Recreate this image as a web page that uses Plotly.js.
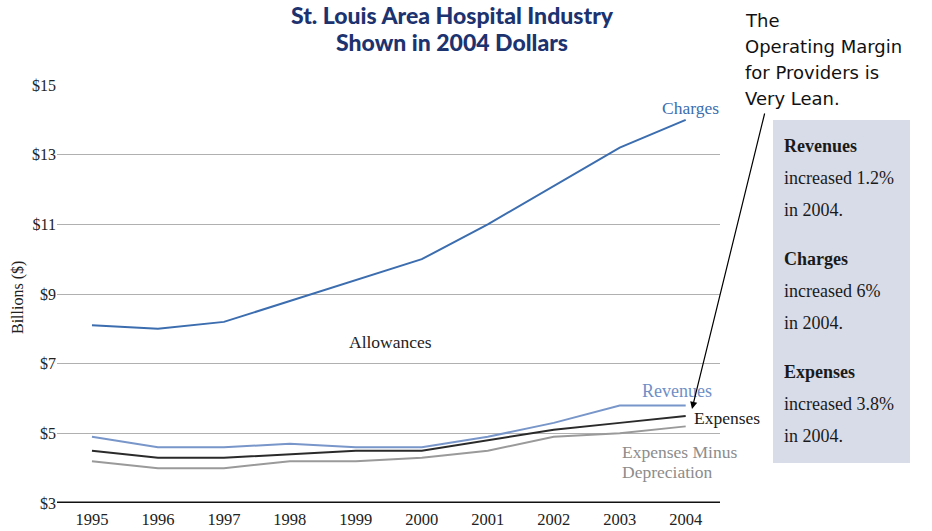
<!DOCTYPE html>
<html>
<head>
<meta charset="utf-8">
<script src="https://cdn.plot.ly/plotly-3.0.1.min.js"></script>
<style>html,body{margin:0;padding:0;background:#fff;}#chart{width:932px;height:531px;}</style>
</head>
<body>
<div id="chart"></div>
<script>
// ---- data ----
const years = [1995, 1996, 1997, 1998, 1999, 2000, 2001, 2002, 2003, 2004];
const charges = [8.1, 8.0, 8.2, 8.8, 9.4, 10.0, 11.0, 12.1, 13.2, 14.0];
const revenues = [4.9, 4.6, 4.6, 4.7, 4.6, 4.6, 4.9, 5.3, 5.8, 5.8];
const expenses = [4.5, 4.3, 4.3, 4.4, 4.5, 4.5, 4.8, 5.1, 5.3, 5.5];
const expensesMinusDep = [4.2, 4.0, 4.0, 4.2, 4.2, 4.3, 4.5, 4.9, 5.0, 5.2];
const yTicks = [3, 5, 7, 9, 11, 13, 15];
const yTickLabels = ['$3', '$5', '$7', '$9', '$11', '$13', '$15'];
const titleLines = ['St. Louis Area Hospital Industry', 'Shown in 2004 Dollars'];
const noteLines = ['The', 'Operating Margin', 'for Providers is', 'Very Lean.'];
const panelLines = [
  ['Revenues', true], ['increased 1.2%', false], ['in 2004.', false],
  ['Charges', true], ['increased 6%', false], ['in 2004.', false],
  ['Expenses', true], ['increased 3.8%', false], ['in 2004.', false]
];

// ---- layout helpers (pixel -> paper) ----
const L = 57, R = 720, T = 85, B = 503;
const px = x => (x - L) / (R - L);
const py = y => (B - y) / (B - T);
const serif = 'Liberation Serif, Times New Roman, serif';
const titleFont = {family: 'Lato, Open Sans, sans-serif', size: 23, color: '#1c3370', weight: 900};

const traces = [
  {x: years, y: charges, mode: 'lines', line: {color: '#3b6daf', width: 2}, name: 'Charges'},
  {x: years, y: revenues, mode: 'lines', line: {color: '#7896c9', width: 2}, name: 'Revenues'},
  {x: years, y: expensesMinusDep, mode: 'lines', line: {color: '#9a9a9a', width: 2}, name: 'Expenses Minus Depreciation'},
  {x: years, y: expenses, mode: 'lines', line: {color: '#2a2a2a', width: 2}, name: 'Expenses'}
];

const ann = [];
function txt(text, x, y, opts) {
  ann.push(Object.assign({
    text: text, xref: 'paper', yref: 'paper', x: px(x), y: py(y),
    showarrow: false, xanchor: 'center', yanchor: 'middle',
    font: {family: serif, size: 17, color: '#222'}
  }, opts || {}));
}
// title
txt(titleLines[0], 452, 15, {font: titleFont});
txt(titleLines[1], 452, 42, {font: titleFont});
// note top right
const noteY = [20, 46, 72, 98];
noteLines.forEach((t, i) => txt(t, 743, noteY[i], {xanchor: 'left', font: {family: 'DejaVu Sans, Verdana, sans-serif', size: 18, color: '#111'}}));
// panel
const panelY = [146, 178, 210, 259, 291, 323, 372, 404, 436];
panelLines.forEach((p, i) => txt(p[1] ? '<b>' + p[0] + '</b>' : p[0], 782, panelY[i], {xanchor: 'left', font: {family: serif, size: 18, color: '#1a1a1a'}}));
// series labels
txt('Charges', 690, 108, {font: {family: serif, size: 17.5, color: '#3b6daf'}});
txt('Allowances', 390, 342, {font: {family: serif, size: 17.5, color: '#222'}});
txt('Revenues', 677, 391, {font: {family: serif, size: 18, color: '#6f8fc6'}});
txt('Expenses', 727, 418, {font: {family: serif, size: 17.5, color: '#1a1a1a'}});
txt('Expenses Minus', 620, 452, {xanchor: 'left', font: {family: serif, size: 17.5, color: '#8c8c8c'}});
txt('Depreciation', 620, 472, {xanchor: 'left', font: {family: serif, size: 17.5, color: '#8c8c8c'}});
// y title
txt('Billions ($)', 18, 298, {textangle: -90, font: {family: serif, size: 16, color: '#222'}});
// arrow
ann.push({text: '', xref: 'paper', yref: 'paper', x: px(692), y: py(409), showarrow: true,
  ax: 73, ay: -297, arrowhead: 2, arrowsize: 1.2, arrowwidth: 1.2, arrowcolor: '#000', standoff: 0});

const layout = {
  width: 932, height: 531,
  margin: {l: L, r: 932 - R, t: T, b: 531 - B},
  paper_bgcolor: '#fff', plot_bgcolor: '#fff',
  showlegend: false,
  xaxis: {
    range: [1994.47, 2004.52], tickvals: years, ticktext: years.map(String),
    showgrid: false, zeroline: false, showline: false, ticks: '', ticklabelstandoff: 4,
    tickfont: {family: serif, size: 16.5, color: '#222'}, fixedrange: true
  },
  yaxis: {
    range: [3, 15], tickvals: yTicks, ticktext: yTickLabels,
    showgrid: true, gridcolor: '#b0b0b0', gridwidth: 1, zeroline: false, showline: false, ticks: '',
    tickfont: {family: serif, size: 16, color: '#222'}, fixedrange: true
  },
  shapes: [
    {type: 'line', xref: 'paper', yref: 'y', x0: 0, x1: 1, y0: 3, y1: 3, line: {color: '#111', width: 3}},
    {type: 'rect', xref: 'paper', yref: 'paper', x0: px(773), x1: px(910), y0: py(463), y1: py(120),
     fillcolor: '#d8dce8', line: {width: 0}, layer: 'below'}
  ],
  annotations: ann
};

Plotly.newPlot('chart', traces, layout, {displayModeBar: false, staticPlot: true});
</script>
</body>
</html>
